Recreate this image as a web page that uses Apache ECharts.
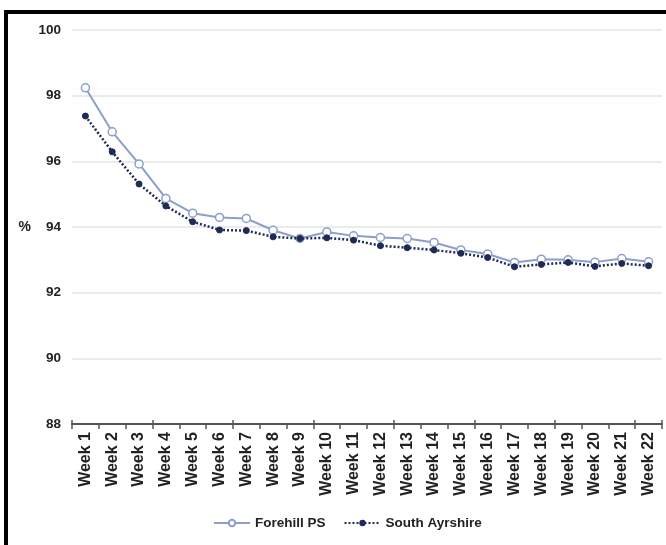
<!DOCTYPE html>
<html>
<head>
<meta charset="utf-8">
<script src="https://cdn.jsdelivr.net/npm/echarts@6/dist/echarts.min.js"></script>
<style>
html,body{margin:0;padding:0;background:#fff;}
#chart{width:666px;height:545px;}
</style>
</head>
<body>
<div id="chart"></div>
<script>
const categories = ['Week 1','Week 2','Week 3','Week 4','Week 5','Week 6','Week 7','Week 8','Week 9','Week 10','Week 11','Week 12','Week 13','Week 14','Week 15','Week 16','Week 17','Week 18','Week 19','Week 20','Week 21','Week 22'];
const forehill = [98.24,96.9,95.92,94.87,94.42,94.29,94.26,93.9,93.65,93.85,93.73,93.68,93.65,93.53,93.3,93.18,92.92,93.02,93.0,92.93,93.04,92.94];
const southAyrshire = [97.38,96.29,95.31,94.64,94.16,93.91,93.89,93.7,93.65,93.67,93.6,93.43,93.37,93.3,93.2,93.07,92.79,92.86,92.92,92.8,92.89,92.82];
const yTicks = {min: 88, max: 100, interval: 2};

const chart = echarts.init(document.getElementById('chart'));
const font = 'Liberation Sans, Arial, sans-serif';
chart.setOption({
  animation: false,
  backgroundColor: '#fff',
  textStyle: {fontFamily: font},
  graphic: [
    {type: 'rect', shape: {x: 5, y: 10, width: 661, height: 4}, style: {fill: '#000'}},
    {type: 'rect', shape: {x: 4, y: 10, width: 4, height: 535}, style: {fill: '#000'}}
  ],
  grid: {left: 72, right: 4, top: 30, bottom: 121, containLabel: false},
  legend: {
    bottom: 10, left: 208,
    itemWidth: 36, itemHeight: 8, itemGap: 18,
    textStyle: {fontFamily: font, fontWeight: 'bold', fontSize: 13.5, color: '#222'},
    data: [
      {name: 'Forehill PS'},
      {name: 'South Ayrshire'}
    ]
  },
  xAxis: [{
    type: 'category', data: categories, boundaryGap: true,
    axisLine: {lineStyle: {color: '#555', width: 2}},
    axisTick: {show: true, length: 5, lineStyle: {color: '#555', width: 1.5}},
    axisLabel: {rotate: 90, fontFamily: font, fontWeight: 'bold', fontSize: 16, color: '#222', margin: 8, interval: 0},
    splitLine: {show: false}
  }, {
    type: 'category', data: categories, boundaryGap: true, position: 'bottom',
    axisLine: {show: false},
    axisTick: {show: true, inside: true, length: 4, lineStyle: {color: '#555', width: 1.5}},
    axisLabel: {show: false}
  }],
  yAxis: {
    type: 'value', min: yTicks.min, max: yTicks.max, interval: yTicks.interval,
    name: '%', nameLocation: 'middle', nameRotate: 0, nameGap: 41,
    nameTextStyle: {fontFamily: font, fontWeight: 'bold', fontSize: 14, color: '#222'},
    axisLine: {show: false}, axisTick: {show: false},
    axisLabel: {fontFamily: font, fontWeight: 'bold', fontSize: 13.5, color: '#222', margin: 11},
    splitLine: {lineStyle: {color: '#ebebeb', width: 2}}
  },
  series: [{
    name: 'Forehill PS', type: 'line', data: forehill,
    symbol: 'circle', symbolSize: 8,
    lineStyle: {color: '#8c9fcb', width: 2},
    itemStyle: {color: '#fff', borderColor: '#8c9fcb', borderWidth: 1.5},
    z: 2
  }, {
    name: 'South Ayrshire', type: 'line', data: southAyrshire,
    symbol: 'circle', symbolSize: 6,
    lineStyle: {color: '#1e2b55', width: 2.5, type: [2, 2]},
    itemStyle: {color: '#1e2b55', borderColor: '#1e2b55'},
    z: 3
  }]
});
</script>
</body>
</html>
